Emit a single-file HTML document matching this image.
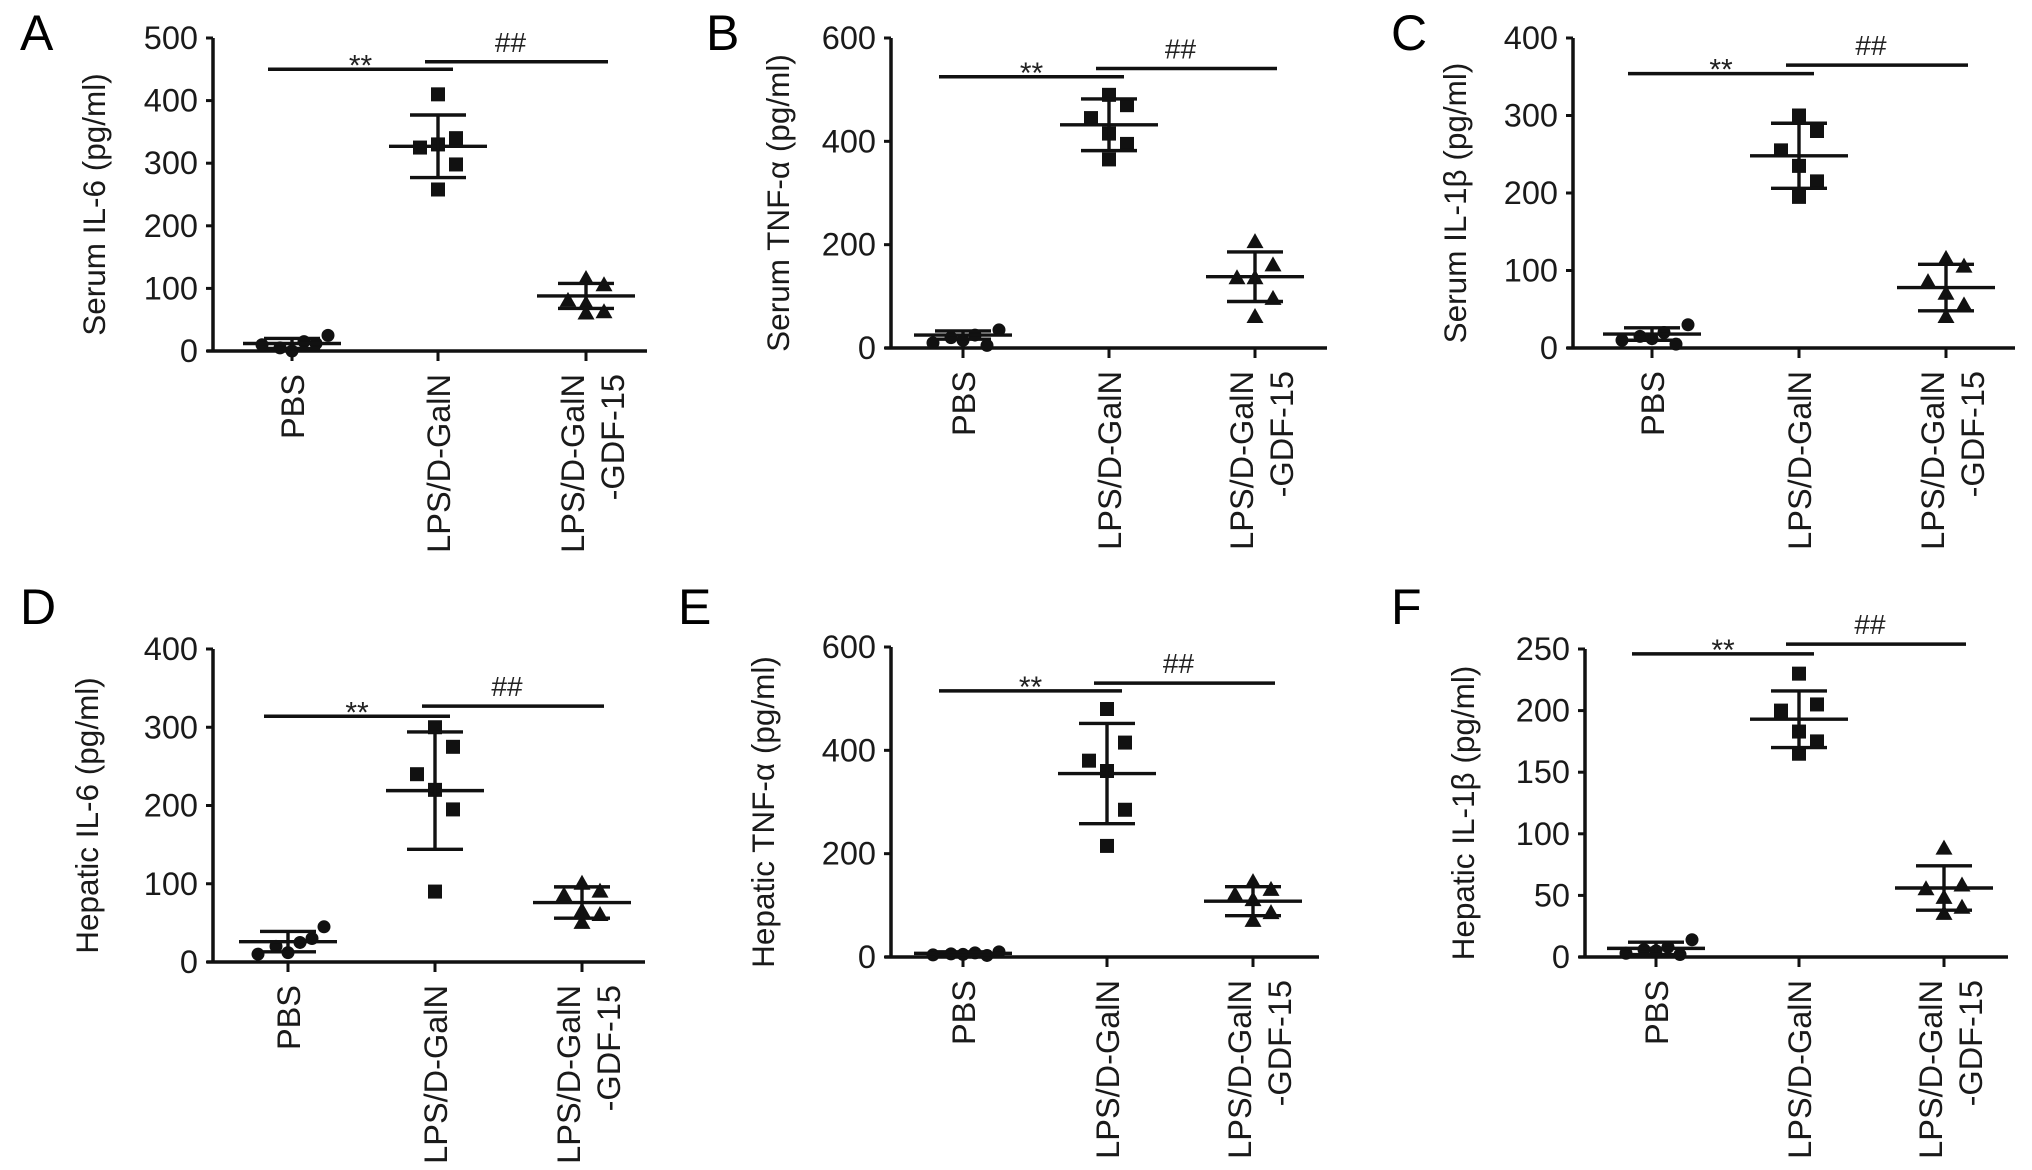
<!DOCTYPE html>
<html><head><meta charset="utf-8"><style>
html,body{margin:0;padding:0;background:#fff;}
svg{display:block;font-family:"Liberation Sans",Arial,sans-serif;}
</style></head><body>
<svg id="fig" width="2032" height="1170" viewBox="0 0 2032 1170" xmlns="http://www.w3.org/2000/svg"></svg>
<script>
// ---- data ----
const categories = ["PBS", "LPS/D-GalN", "LPS/D-GalN|-GDF-15"];
const panelLetters = ["A","B","C","D","E","F"];
const yTitles = ["Serum IL-6 (pg/ml)","Serum TNF-\u03b1 (pg/ml)","Serum IL-1\u03b2 (pg/ml)","Hepatic IL-6 (pg/ml)","Hepatic TNF-\u03b1 (pg/ml)","Hepatic IL-1\u03b2 (pg/ml)"];
const yMax = [500, 600, 400, 400, 600, 250];
const tickStep = [100, 200, 100, 100, 200, 50];

const aPBS = [25, 15, 5, 0, 10, 12];
const aLPS = [410, 340, 325, 330, 298, 258];
const aGDF = [115, 105, 80, 75, 62, 60];
const aMean = [12, 327, 88];
const aSD = [8, 50, 20];

const bPBS = [35, 25, 20, 15, 10, 5];
const bLPS = [490, 470, 445, 415, 395, 365];
const bGDF = [205, 160, 135, 135, 95, 60];
const bMean = [25, 432, 138];
const bSD = [8, 50, 48];

const cPBS = [30, 20, 15, 12, 10, 5];
const cLPS = [300, 280, 255, 235, 215, 195];
const cGDF = [115, 105, 85, 70, 55, 40];
const cMean = [18, 248, 78];
const cSD = [8, 42, 30];

const dPBS = [45, 25, 20, 12, 10, 30];
const dLPS = [300, 275, 240, 220, 195, 90];
const dGDF = [100, 90, 85, 65, 60, 50];
const dMean = [26, 219, 76];
const dSD = [13, 75, 20];

const ePBS = [10, 8, 6, 5, 4, 3];
const eLPS = [480, 415, 380, 360, 285, 215];
const eGDF = [145, 130, 120, 110, 85, 70];
const eMean = [7, 355, 108];
const eSD = [3, 97, 28];

const fPBS = [14, 8, 6, 5, 3, 2];
const fLPS = [230, 205, 200, 183, 175, 165];
const fGDF = [88, 58, 55, 48, 40, 35];
const fMean = [7, 193, 56];
const fSD = [5, 23, 18];

const sigStarLevel = [450, 525, 354, 314, 515, 246];
const sigHashLevel = [462, 541, 365, 327, 530, 254];

const allGroups = [[aPBS,aLPS,aGDF],[bPBS,bLPS,bGDF],[cPBS,cLPS,cGDF],[dPBS,dLPS,dGDF],[ePBS,eLPS,eGDF],[fPBS,fLPS,fGDF]];
const allMeans = [aMean,bMean,cMean,dMean,eMean,fMean];
const allSDs = [aSD,bSD,cSD,dSD,eSD,fSD];

// ---- layout (pixels) ----
const layout = [
 {ax:213, top:38, bot:351, right:647, gx:[292,438,586], lx:20, ly:50, tx:94},
 {ax:891, top:38, bot:348, right:1327, gx:[963,1109,1255], lx:706, ly:50, tx:778},
 {ax:1573, top:38, bot:348, right:2015, gx:[1652,1799,1946], lx:1391, ly:50, tx:1455},
 {ax:213, top:649, bot:962, right:645, gx:[288,435,582], lx:20, ly:624, tx:87},
 {ax:891, top:647, bot:957, right:1319, gx:[963,1107,1253], lx:678, ly:624, tx:763},
 {ax:1585, top:649, bot:957, right:2008, gx:[1656,1799,1944], lx:1391, ly:624, tx:1463}
];
const jitter = [0, 18, -18, 0, 18, 0];
const jitterPBS = [36, 12, -12, 0, -30, 24];

const NS = "http://www.w3.org/2000/svg";
const svg = document.getElementById("fig");
function mk(tag, attrs, parent){
  const e = document.createElementNS(NS, tag);
  for (const k in attrs) e.setAttribute(k, attrs[k]);
  (parent||svg).appendChild(e);
  return e;
}

for (let p = 0; p < 6; p++) {
  const L = layout[p];
  const g = mk("g", {});
  
  
  const y = v => L.bot - (v / yMax[p]) * (L.bot - L.top);

  const letter = mk("text", {x:L.lx, y:L.ly, "font-size":50}, g);
  letter.textContent = panelLetters[p];
  
  

  const yAxis = mk("line", {x1:L.ax, y1:L.top, x2:L.ax, y2:L.bot, stroke:"#111", "stroke-width":3.5}, g);
  
  
  const xAxis = mk("line", {x1:L.ax-6, y1:L.bot, x2:L.right, y2:L.bot, stroke:"#111", "stroke-width":3.5}, g);
  
  

  for (let v = 0; v <= yMax[p]; v += tickStep[p]) {
    mk("line", {x1:L.ax-7, y1:y(v), x2:L.ax, y2:y(v), stroke:"#111", "stroke-width":3}, g);
    const t = mk("text", {x:L.ax-15, y:y(v)+11, "font-size":32.5, "text-anchor":"end", fill:"#1a1a1a"}, g);
    t.textContent = v;
    
    
  }

  const ty = (L.top + L.bot) / 2 + 10;
  const yt = mk("text", {x:L.tx, y:ty, "font-size":31.5, "text-anchor":"middle", fill:"#1a1a1a",
    "dominant-baseline":"central", transform:`rotate(-90 ${L.tx} ${ty})`}, g);
  yt.textContent = yTitles[p];
  
  

  for (let c = 0; c < 3; c++) {
    const gx = L.gx[c];
    mk("line", {x1:gx, y1:L.bot, x2:gx, y2:L.bot+10, stroke:"#111", "stroke-width":3}, g);
    const lines = categories[c].split("|");
    const ey = L.bot + 23;
    lines.forEach((s, i) => {
      const bx = lines.length === 1 ? gx + 12 : gx - 2 + i * 40;
      const t = mk("text", {x:bx, y:ey, "font-size":32.5, "text-anchor":"end", fill:"#1a1a1a",
        transform:`rotate(-90 ${bx} ${ey})`}, g);
      t.textContent = s;
      
      
    });

    const vals = allGroups[p][c];
    vals.forEach((v, i) => {
      const px = gx + (c === 0 ? jitterPBS[i] : jitter[i]);
      const py = y(v);
      let m;
      if (c === 0) m = mk("circle", {cx:px, cy:py, r:6.5, fill:"#111"}, g);
      else if (c === 1) m = mk("rect", {x:px-7, y:py-7, width:14, height:14, fill:"#111"}, g);
      else m = mk("polygon", {points:`${px},${py-9} ${px-8.5},${py+6} ${px+8.5},${py+6}`, fill:"#111"}, g);
      
      
    });

    const mean = allMeans[p][c], sd = allSDs[p][c];
    const eb = mk("g", {stroke:"#111", "stroke-width":3.4}, g);
    
    
    mk("line", {x1:gx-49, y1:y(mean), x2:gx+49, y2:y(mean)}, eb);
    mk("line", {x1:gx, y1:y(mean+sd), x2:gx, y2:y(Math.max(0, mean-sd))}, eb);
    mk("line", {x1:gx-28, y1:y(mean+sd), x2:gx+28, y2:y(mean+sd)}, eb);
    mk("line", {x1:gx-28, y1:y(Math.max(0, mean-sd)), x2:gx+28, y2:y(Math.max(0, mean-sd))}, eb);
  }

  const s1 = y(sigStarLevel[p]), s2 = y(sigHashLevel[p]);
  const x1a = L.gx[0] - 24, x1b = L.gx[1] + 15, x2a = L.gx[1] - 13, x2b = L.gx[2] + 22;
  const l1 = mk("line", {x1:x1a, y1:s1, x2:x1b, y2:s1, stroke:"#111", "stroke-width":3.5}, g);
  
  
  const l2 = mk("line", {x1:x2a, y1:s2, x2:x2b, y2:s2, stroke:"#111", "stroke-width":3.5}, g);
  
  
  const st = mk("text", {x:(x1a+x1b)/2, y:s1+6, "font-size":30, "text-anchor":"middle", fill:"#222"}, g);
  st.textContent = "**";
  
  
  const ht = mk("text", {x:(x2a+x2b)/2 - 6, y:s2-10, "font-size":28, "text-anchor":"middle", fill:"#222"}, g);
  ht.textContent = "##";
  
  
}
</script>
</body></html>
